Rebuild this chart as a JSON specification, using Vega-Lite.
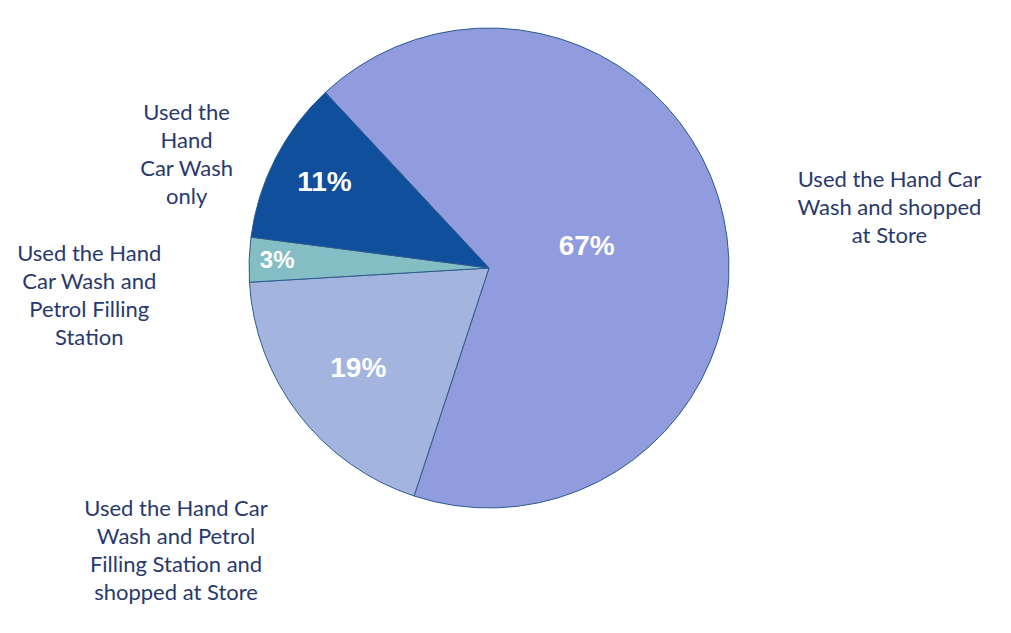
{
  "$schema": "https://vega.github.io/schema/vega-lite/v6.json",
  "width": 978,
  "height": 536,
  "autosize": {"type": "none"},
  "padding": {"left": 0, "top": 0, "right": 33, "bottom": 97},
  "background": "white",
  "config": {"view": {"stroke": null}},
  "data": {
    "values": [
      {"segment": "Used the Hand Car Wash and shopped at Store", "share": 67, "pct": "67%", "label": "Used the Hand Car\nWash and shopped\nat Store", "order": 1},
      {"segment": "Used the Hand Car Wash and Petrol Filling Station and shopped at Store", "share": 19, "pct": "19%", "label": "Used the Hand Car\nWash and  Petrol\nFilling Station and\nshopped at Store", "order": 2},
      {"segment": "Used the Hand Car Wash and Petrol Filling Station", "share": 3, "pct": "3%", "label": "Used the Hand\nCar Wash and\nPetrol Filling\nStation", "order": 3},
      {"segment": "Used the Hand Car Wash only", "share": 11, "pct": "11%", "label": "Used the\nHand\nCar Wash\nonly", "order": 4}
    ]
  },
  "encoding": {
    "theta": {"field": "share", "type": "quantitative", "stack": true, "scale": {"range": [-0.7505, 5.5327]}},
    "order": {"field": "order", "type": "quantitative"}
  },
  "layer": [
    {
      "mark": {"type": "arc", "outerRadius": 240, "stroke": "#2d5b8e", "strokeWidth": 1},
      "encoding": {
        "color": {
          "field": "segment",
          "type": "nominal",
          "legend": null,
          "scale": {
            "domain": [
              "Used the Hand Car Wash and shopped at Store",
              "Used the Hand Car Wash and Petrol Filling Station and shopped at Store",
              "Used the Hand Car Wash and Petrol Filling Station",
              "Used the Hand Car Wash only"
            ],
            "range": ["#919CDF", "#A3B5DE", "#84BEC4", "#0F4F9C"]
          }
        }
      }
    },
    {
      "mark": {"type": "text", "radius": 100, "font": "Liberation Sans", "fontWeight": "bold", "fontSize": 28, "fill": "white", "align": "center", "baseline": "middle"},
      "encoding": {"text": {"condition": {"test": "datum.order === 1", "field": "pct"}, "value": ""}}
    },
    {
      "mark": {"type": "text", "radius": 165, "font": "Liberation Sans", "fontWeight": "bold", "fontSize": 28, "fill": "white", "align": "center", "baseline": "middle"},
      "encoding": {"text": {"condition": {"test": "datum.order === 2", "field": "pct"}, "value": ""}}
    },
    {
      "mark": {"type": "text", "radius": 212, "font": "Liberation Sans", "fontWeight": "bold", "fontSize": 24, "fill": "white", "align": "center", "baseline": "middle"},
      "encoding": {"text": {"condition": {"test": "datum.order === 3", "field": "pct"}, "value": ""}}
    },
    {
      "mark": {"type": "text", "radius": 185, "font": "Liberation Sans", "fontWeight": "bold", "fontSize": 28, "fill": "white", "align": "center", "baseline": "middle"},
      "encoding": {"text": {"condition": {"test": "datum.order === 4", "field": "pct"}, "value": ""}}
    },
    {
      "mark": {"type": "text", "radius": 410, "font": "Lato", "fontSize": 22, "lineHeight": 28, "lineBreak": "\n", "fill": "#28396E", "align": "center", "baseline": "middle"},
      "encoding": {"text": {"condition": {"test": "datum.order === 1", "field": "label"}, "value": ""}}
    },
    {
      "mark": {"type": "text", "radius": 395, "font": "Lato", "fontSize": 22, "lineHeight": 28, "lineBreak": "\n", "fill": "#28396E", "align": "center", "baseline": "middle"},
      "encoding": {"text": {"condition": {"test": "datum.order === 2", "field": "label"}, "value": ""}}
    },
    {
      "mark": {"type": "text", "radius": 400, "font": "Lato", "fontSize": 22, "lineHeight": 28, "lineBreak": "\n", "fill": "#28396E", "align": "center", "baseline": "middle"},
      "encoding": {"text": {"condition": {"test": "datum.order === 3", "field": "label"}, "value": ""}}
    },
    {
      "mark": {"type": "text", "radius": 340, "font": "Lato", "fontSize": 22, "lineHeight": 28, "lineBreak": "\n", "fill": "#28396E", "align": "center", "baseline": "middle"},
      "encoding": {"text": {"condition": {"test": "datum.order === 4", "field": "label"}, "value": ""}}
    }
  ]
}
